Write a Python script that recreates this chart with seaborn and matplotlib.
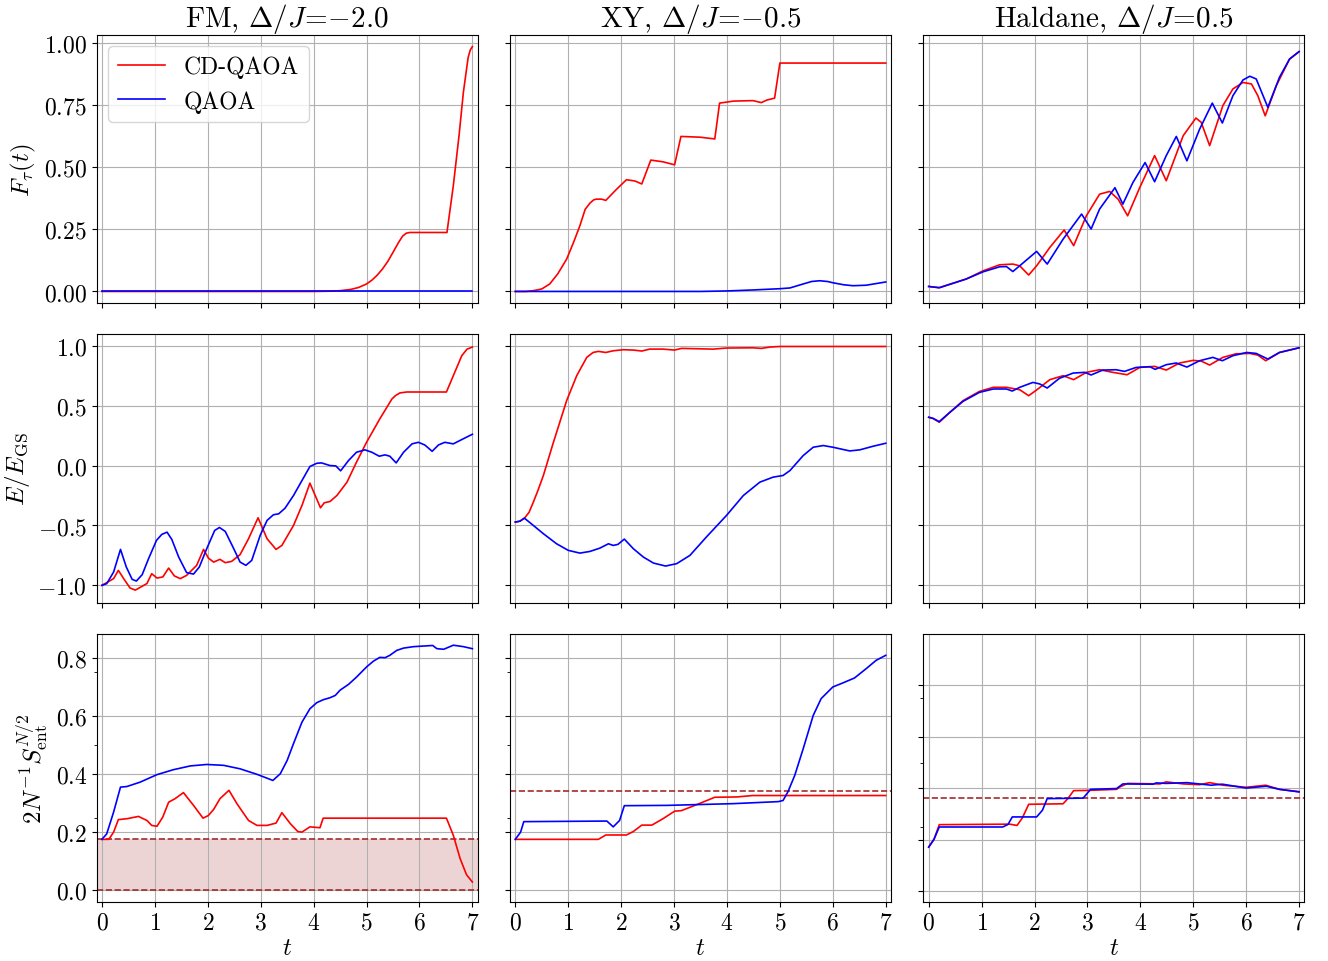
import matplotlib
matplotlib.use("Agg")
import matplotlib.pyplot as plt
import seaborn as sns

# ---------------- data ----------------
t_ticks = [0, 1, 2, 3, 4, 5, 6, 7]
titles = ["FM, $\\Delta/J\\!=\\!{-}2.0$", "XY, $\\Delta/J\\!=\\!{-}0.5$", "Haldane, $\\Delta/J\\!=\\!0.5$"]
ylabels = ["$F_\\tau(t)$", "$E/E_{\\rm GS}$", "$2N^{-1}S_{\\rm ent}^{N/2}$"]
series_labels = ["CD-QAOA", "QAOA"]

# Fidelity
fid_fm_cd_t = [0, 4.0, 4.3, 4.5, 4.7, 4.85, 5.0, 5.1, 5.2, 5.3, 5.4, 5.5, 5.6, 5.68, 5.75, 5.82, 6.52, 6.64, 6.75,
               6.83, 6.92, 6.96, 7.0]
fid_fm_cd_v = [0, 0, 0.001, 0.003, 0.008, 0.016, 0.03, 0.045, 0.065, 0.09, 0.12, 0.157, 0.195, 0.222, 0.234, 0.237,
               0.237, 0.425, 0.63, 0.80, 0.94, 0.97, 0.984]
fid_fm_qa_t = [0, 1, 2, 3, 4, 5, 6, 7]
fid_fm_qa_v = [0, 0, 0, 0, 0, 0, 0, 0]

fid_xy_cd_t = [0, 0.2, 0.34, 0.5, 0.65, 0.8, 0.97, 1.1, 1.22, 1.32, 1.41, 1.48, 1.53, 1.63, 1.71, 1.91, 2.10, 2.26, 2.39,
               2.56, 2.79, 3.01, 3.13, 3.49, 3.77, 3.86, 4.12, 4.49, 4.65, 4.75, 4.90, 5.0, 7.0]
fid_xy_cd_v = [0, 0.0, 0.003, 0.01, 0.03, 0.07, 0.13, 0.197, 0.264, 0.33, 0.355, 0.368, 0.371, 0.371, 0.366, 0.41, 0.449,
               0.444, 0.432, 0.528, 0.521, 0.509, 0.623, 0.62, 0.613, 0.757, 0.765, 0.767, 0.759, 0.769, 0.777, 0.918, 0.918]
fid_xy_qa_t = [0, 3.5, 4.0, 4.5, 5.0, 5.19, 5.44, 5.6, 5.75, 5.9, 6.0, 6.2, 6.38, 6.63, 6.8, 7.0]
fid_xy_qa_v = [0, 0, 0.002, 0.006, 0.011, 0.014, 0.03, 0.04, 0.043, 0.04, 0.035, 0.027, 0.023, 0.025, 0.031, 0.038]

fid_hal_cd_t = [0, 0.2, 0.71, 1.03, 1.34, 1.59, 1.72, 1.89, 2.04, 2.29, 2.56, 2.74, 2.98, 3.23, 3.42, 3.58, 3.76, 3.99,
                4.27, 4.49, 4.81, 5.05, 5.15, 5.31, 5.56, 5.75, 5.94, 6.10, 6.22, 6.36, 6.57, 6.82, 7.0]
fid_hal_cd_v = [0.02, 0.015, 0.05, 0.083, 0.107, 0.11, 0.103, 0.066, 0.103, 0.177, 0.247, 0.184, 0.304, 0.391, 0.402,
                0.371, 0.304, 0.418, 0.546, 0.445, 0.626, 0.697, 0.68, 0.586, 0.747, 0.814, 0.84, 0.834, 0.787, 0.706,
                0.827, 0.934, 0.964]
fid_hal_qa_t = [0, 0.2, 0.71, 1.03, 1.34, 1.47, 1.59, 1.72, 2.04, 2.24, 2.54, 2.89, 3.07, 3.23, 3.52, 3.67, 3.86, 4.09,
                4.27, 4.49, 4.68, 4.88, 5.12, 5.36, 5.55, 5.75, 5.94, 6.07, 6.19, 6.41, 6.63, 6.82, 7.0]
fid_hal_qa_v = [0.02, 0.015, 0.05, 0.079, 0.099, 0.1, 0.08, 0.103, 0.161, 0.11, 0.21, 0.311, 0.251, 0.331, 0.417, 0.351,
                0.438, 0.518, 0.441, 0.546, 0.623, 0.525, 0.652, 0.757, 0.677, 0.787, 0.85, 0.865, 0.854, 0.74, 0.861,
                0.934, 0.964]

# Energy ratio
en_fm_cd_t = [0, 0.22, 0.31, 0.41, 0.53, 0.63, 0.79, 0.85, 0.94, 1.04, 1.15, 1.26, 1.37, 1.48, 1.60, 1.79, 1.92, 2.01,
              2.11, 2.23, 2.33, 2.45, 2.61, 2.77, 2.95, 3.12, 3.29, 3.40, 3.62, 3.78, 3.93, 4.03, 4.13, 4.20, 4.31,
              4.44, 4.63, 4.81, 5.00, 5.25, 5.48, 5.55, 5.63, 5.76, 6.51, 6.64, 6.80, 6.90, 7.0]
en_fm_cd_v = [-1.0, -0.944, -0.875, -0.944, -1.022, -1.04, -1.0, -0.985, -0.903, -0.939, -0.93, -0.856, -0.922, -0.944,
              -0.917, -0.833, -0.70, -0.772, -0.806, -0.783, -0.811, -0.80, -0.744, -0.611, -0.436, -0.611, -0.70,
              -0.667, -0.5, -0.333, -0.147, -0.25, -0.353, -0.311, -0.30, -0.25, -0.139, 0.028, 0.194, 0.389, 0.556,
              0.585, 0.606, 0.614, 0.614, 0.75, 0.917, 0.972, 0.989]
en_fm_qa_t = [0, 0.09, 0.22, 0.35, 0.46, 0.57, 0.65, 0.76, 0.88, 1.03, 1.13, 1.23, 1.32, 1.45, 1.60, 1.73, 1.84, 1.98,
              2.13, 2.22, 2.33, 2.49, 2.61, 2.72, 2.83, 2.99, 3.12, 3.24, 3.34, 3.46, 3.62, 3.78, 3.93, 4.06, 4.15,
              4.31, 4.42, 4.51, 4.66, 4.81, 4.97, 5.10, 5.24, 5.35, 5.44, 5.56, 5.70, 5.86, 5.98, 6.10, 6.24, 6.36,
              6.48, 6.64, 6.80, 7.0]
en_fm_qa_v = [-1.0, -0.986, -0.889, -0.70, -0.847, -0.95, -0.964, -0.911, -0.778, -0.625, -0.575, -0.556, -0.617,
              -0.764, -0.894, -0.906, -0.847, -0.694, -0.542, -0.517, -0.55, -0.694, -0.806, -0.833, -0.792, -0.583,
              -0.458, -0.411, -0.403, -0.356, -0.25, -0.125, -0.008, 0.019, 0.022, 0.0, -0.003, -0.044, 0.042, 0.111,
              0.131, 0.111, 0.078, 0.089, 0.078, 0.022, 0.111, 0.181, 0.194, 0.172, 0.119, 0.172, 0.194, 0.181, 0.217,
              0.261]

en_xy_cd_t = [0, 0.09, 0.18, 0.26, 0.34, 0.43, 0.53, 0.72, 0.97, 1.16, 1.35, 1.47, 1.57, 1.71, 1.85, 2.04, 2.23, 2.39,
              2.54, 2.79, 3.01, 3.14, 3.74, 3.99, 4.49, 4.65, 4.81, 5.0, 7.0]
en_xy_cd_v = [-0.472, -0.464, -0.436, -0.39, -0.306, -0.205, -0.083, 0.194, 0.542, 0.75, 0.903, 0.944, 0.953, 0.944,
              0.958, 0.967, 0.964, 0.956, 0.972, 0.972, 0.964, 0.978, 0.972, 0.981, 0.983, 0.978, 0.989, 0.994, 0.994]
en_xy_qa_t = [0, 0.09, 0.17, 0.28, 0.53, 0.78, 1.0, 1.22, 1.41, 1.60, 1.76, 1.85, 1.94, 2.06, 2.23, 2.42, 2.61, 2.84,
              3.05, 3.30, 3.61, 3.99, 4.31, 4.62, 4.87, 5.06, 5.19, 5.44, 5.63, 5.82, 6.0, 6.32, 6.51, 6.76, 7.0]
en_xy_qa_v = [-0.472, -0.464, -0.439, -0.478, -0.569, -0.653, -0.708, -0.731, -0.717, -0.689, -0.653, -0.667, -0.658,
              -0.614, -0.694, -0.764, -0.814, -0.839, -0.819, -0.75, -0.597, -0.417, -0.25, -0.139, -0.097, -0.083,
              -0.042, 0.083, 0.153, 0.167, 0.153, 0.122, 0.131, 0.161, 0.186]

en_hal_cd_t = [0, 0.08, 0.2, 0.4, 0.65, 0.96, 1.22, 1.47, 1.72, 1.89, 2.04, 2.29, 2.54, 2.74, 2.98, 3.23, 3.48, 3.75,
               3.99, 4.27, 4.49, 4.74, 5.0, 5.15, 5.31, 5.56, 5.81, 6.07, 6.22, 6.37, 6.63, 7.0]
en_hal_cd_v = [0.403, 0.394, 0.361, 0.444, 0.542, 0.619, 0.653, 0.653, 0.633, 0.583, 0.631, 0.717, 0.75, 0.717, 0.778,
               0.8, 0.778, 0.758, 0.819, 0.828, 0.797, 0.856, 0.878, 0.872, 0.839, 0.903, 0.933, 0.936, 0.922, 0.875,
               0.944, 0.983]
en_hal_qa_t = [0, 0.08, 0.2, 0.4, 0.65, 0.96, 1.22, 1.47, 1.58, 1.72, 1.97, 2.10, 2.24, 2.47, 2.73, 2.95, 3.07, 3.29,
               3.54, 3.70, 3.92, 4.18, 4.28, 4.49, 4.68, 4.88, 5.12, 5.37, 5.55, 5.75, 6.01, 6.19, 6.41, 6.63, 7.0]
en_hal_qa_v = [0.403, 0.394, 0.367, 0.444, 0.536, 0.611, 0.639, 0.639, 0.622, 0.653, 0.694, 0.681, 0.647, 0.728, 0.772,
               0.778, 0.756, 0.797, 0.8, 0.786, 0.819, 0.825, 0.803, 0.842, 0.856, 0.822, 0.875, 0.903, 0.875, 0.917,
               0.944, 0.936, 0.889, 0.944, 0.983]

# Entanglement entropy
ent_fm_cd_t = [0, 0.13, 0.22, 0.31, 0.47, 0.69, 0.85, 0.94, 1.04, 1.15, 1.26, 1.38, 1.54, 1.73, 1.91, 2.01, 2.11, 2.23,
               2.40, 2.55, 2.77, 2.93, 3.12, 3.29, 3.40, 3.56, 3.70, 3.78, 3.93, 4.12, 4.18, 6.51, 6.64, 6.77, 6.89,
               7.0]
ent_fm_cd_v = [0.175, 0.175, 0.2, 0.243, 0.246, 0.254, 0.24, 0.223, 0.22, 0.252, 0.303, 0.315, 0.336, 0.292, 0.248,
               0.257, 0.278, 0.315, 0.344, 0.298, 0.24, 0.223, 0.223, 0.231, 0.267, 0.229, 0.202, 0.2, 0.218, 0.215,
               0.248, 0.248, 0.189, 0.108, 0.053, 0.028]
ent_fm_qa_t = [0, 0.09, 0.22, 0.35, 0.47, 0.72, 1.04, 1.35, 1.67, 1.98, 2.30, 2.61, 2.93, 3.23, 3.37, 3.50, 3.62, 3.78,
               3.93, 4.06, 4.18, 4.31, 4.41, 4.50, 4.66, 4.81, 5.0, 5.13, 5.25, 5.35, 5.44, 5.57, 5.70, 5.89, 6.25,
               6.33, 6.46, 6.64, 6.83, 7.0]
ent_fm_qa_v = [0.175, 0.194, 0.269, 0.355, 0.357, 0.372, 0.398, 0.415, 0.428, 0.433, 0.43, 0.418, 0.399, 0.378, 0.401,
               0.447, 0.505, 0.579, 0.625, 0.646, 0.656, 0.663, 0.671, 0.689, 0.709, 0.734, 0.769, 0.789, 0.802, 0.801,
               0.809, 0.826, 0.834, 0.839, 0.843, 0.832, 0.83, 0.844, 0.839, 0.832]

ent_xy_cd_t = [0, 1.57, 1.71, 2.10, 2.23, 2.39, 2.58, 2.79, 3.01, 3.14, 3.42, 3.77, 4.18, 4.49, 7.0]
ent_xy_cd_v = [0.175, 0.175, 0.19, 0.19, 0.202, 0.224, 0.224, 0.246, 0.272, 0.274, 0.294, 0.32, 0.321, 0.326, 0.326]
ent_xy_qa_t = [0, 0.10, 0.16, 1.73, 1.85, 1.97, 2.06, 2.86, 4.12, 4.97, 5.06, 5.15, 5.28, 5.44, 5.63, 5.78, 6.0, 6.19,
               6.41, 6.63, 6.82, 7.0]
ent_xy_qa_v = [0.175, 0.2, 0.236, 0.238, 0.218, 0.24, 0.291, 0.292, 0.298, 0.305, 0.309, 0.338, 0.395, 0.487, 0.602,
               0.66, 0.70, 0.714, 0.731, 0.763, 0.792, 0.809]

ent_hal_cd_t = [0, 0.1, 0.2, 1.53, 1.67, 1.77, 1.89, 2.54, 2.63, 2.74, 3.04, 3.55, 3.61, 3.76, 4.37, 4.49, 4.81, 5.12,
                5.31, 5.56, 6.00, 6.37, 6.63, 7.0]
ent_hal_cd_v = [0.172, 0.202, 0.259, 0.261, 0.256, 0.285, 0.338, 0.34, 0.36, 0.391, 0.392, 0.396, 0.405, 0.419, 0.417,
                0.425, 0.417, 0.414, 0.422, 0.412, 0.404, 0.412, 0.396, 0.387]
ent_hal_qa_t = [0, 0.1, 0.2, 1.40, 1.50, 1.58, 2.04, 2.15, 2.24, 2.92, 3.06, 3.55, 3.67, 4.24, 4.30, 4.49, 4.88, 5.34,
                5.55, 6.0, 6.38, 6.63, 7.0]
ent_hal_qa_v = [0.172, 0.202, 0.25, 0.25, 0.26, 0.289, 0.289, 0.315, 0.36, 0.362, 0.396, 0.399, 0.417, 0.416, 0.421,
                0.419, 0.422, 0.412, 0.416, 0.401, 0.408, 0.396, 0.386]

# Reference levels for entanglement
fm_ent_band = [0.0, 0.175]
xy_ent_ref = 0.343
hal_ent_ref = 0.361

# ---------------- style ----------------
plt.rcParams.update({
    "font.family": "serif",
    "font.serif": ["cmr10"],
    "mathtext.fontset": "cm",
    "axes.formatter.use_mathtext": True,
    "axes.unicode_minus": True,
})

colors = ["red", "blue"]
fig, axes = plt.subplots(3, 3, figsize=(13.28, 9.62), dpi=100)
fig.subplots_adjust(left=0.0728, right=0.9822, bottom=0.0613, top=0.9629, wspace=0.085, hspace=0.1155)

data = [
    [(fid_fm_cd_t, fid_fm_cd_v, fid_fm_qa_t, fid_fm_qa_v),
     (fid_xy_cd_t, fid_xy_cd_v, fid_xy_qa_t, fid_xy_qa_v),
     (fid_hal_cd_t, fid_hal_cd_v, fid_hal_qa_t, fid_hal_qa_v)],
    [(en_fm_cd_t, en_fm_cd_v, en_fm_qa_t, en_fm_qa_v),
     (en_xy_cd_t, en_xy_cd_v, en_xy_qa_t, en_xy_qa_v),
     (en_hal_cd_t, en_hal_cd_v, en_hal_qa_t, en_hal_qa_v)],
    [(ent_fm_cd_t, ent_fm_cd_v, ent_fm_qa_t, ent_fm_qa_v),
     (ent_xy_cd_t, ent_xy_cd_v, ent_xy_qa_t, ent_xy_qa_v),
     (ent_hal_cd_t, ent_hal_cd_v, ent_hal_qa_t, ent_hal_qa_v)],
]

ylims = [[(-0.047, 1.032)] * 3, [(-1.144, 1.097)] * 3, [(-0.041, 0.884), (-0.041, 0.884), (-0.041, 1.0)]]
yticks = [[0, 0.25, 0.5, 0.75, 1.0], [-1.0, -0.5, 0.0, 0.5, 1.0], [0.0, 0.2, 0.4, 0.6, 0.8]]
ref_color = "brown"

for r in range(3):
    for c in range(3):
        ax = axes[r, c]
        ct, cv, qt, qv = data[r][c]
        # reference lines (drawn above grid, below curves)
        if r == 2:
            if c == 0:
                ax.fill_between([-0.1, 7.1], fm_ent_band[0], fm_ent_band[1], color=ref_color, alpha=0.2, lw=0,
                                zorder=1)
                for lvl in fm_ent_band:
                    ax.axhline(lvl, color=ref_color, ls="--", lw=1.2, zorder=1.8)
            elif c == 1:
                ax.axhline(xy_ent_ref, color=ref_color, ls="--", lw=1.2, zorder=1.8)
            else:
                ax.axhline(hal_ent_ref, color=ref_color, ls="--", lw=1.2, zorder=1.8)
        sns.lineplot(x=ct, y=cv, ax=ax, color=colors[0], lw=1.2, label=series_labels[0],
                     estimator=None, sort=False, legend=False, zorder=2)
        sns.lineplot(x=qt, y=qv, ax=ax, color=colors[1], lw=1.2, label=series_labels[1],
                     estimator=None, sort=False, legend=False, zorder=2.1)
        ax.set_xlim(-0.1, 7.1)
        ax.set_ylim(*ylims[r][c])
        ax.set_xticks(t_ticks)
        ax.set_yticks(yticks[r])
        if r == 2:
            ax.set_yticks([0.25, 0.5, 0.75], minor=True)
            ax.tick_params(axis="y", which="minor", length=2, labelleft=False)
        ax.set_axisbelow("line")
        ax.grid(True, which="major", color="#b0b0b0", lw=0.8)
        ax.tick_params(axis="both", which="major", labelsize=17, length=3.5)
        if c != 0:
            ax.tick_params(axis="y", labelleft=False)
            ax.set_ylabel("")
        else:
            ax.set_ylabel(ylabels[r], fontsize=18)
        if r != 2:
            ax.tick_params(axis="x", labelbottom=False)
            ax.set_xlabel("")
        else:
            ax.set_xlabel("$t$", fontsize=18, labelpad=2)
        if r == 0:
            ax.set_title(titles[c], fontsize=21)
        if r == 0 and c == 0:
            ax.legend(loc="upper left", fontsize=17)
        else:
            lg = ax.get_legend()
            if lg is not None:
                lg.remove()

fig.savefig("out.png", dpi=100)
